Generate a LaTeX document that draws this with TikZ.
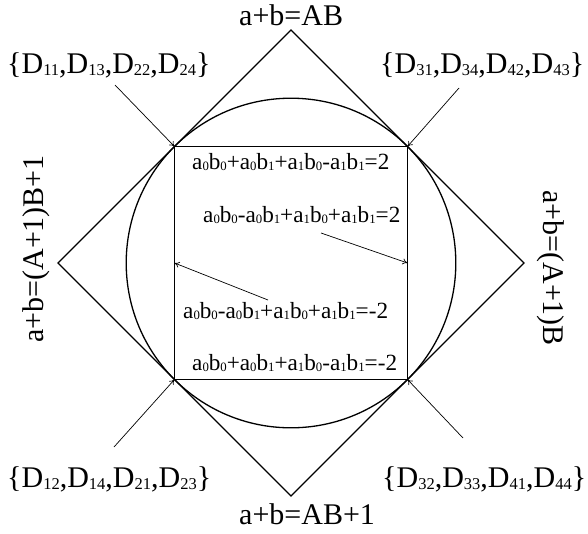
\documentclass[tikz,border=0pt]{standalone}
\usepackage{fontspec}
\setmainfont{Liberation Serif}
\usepackage{graphicx}
\usetikzlibrary{arrows.meta}
\newcommand\dsub[1]{\raisebox{-2pt}{\scalebox{0.55}{#1}}}
\newcommand\esub[1]{\raisebox{-1.5pt}{\scalebox{0.55}{#1}}}
\begin{document}
\begin{tikzpicture}[x=1pt,y=-1pt,line join=miter,
  big/.style={font=\fontsize{30}{36}\selectfont, inner sep=0pt},
  eq/.style={font=\fontsize{23.2}{28}\selectfont, inner sep=0pt, anchor=base west},
  geom/.style={line width=1.3pt},
  arr/.style={line width=0.7pt, -{To[length=5pt,width=6pt]}}]
\useasboundingbox (0,0) rectangle (588,533);
% geometry
\coordinate (O) at (291,263);
\coordinate (T) at (291,30);
\coordinate (L) at (58,263);
\coordinate (R) at (524,263);
\coordinate (B) at (291,496);
\coordinate (TL) at (174.5,146.5);
\coordinate (TR) at (407.5,146.5);
\coordinate (BL) at (174.5,379.5);
\coordinate (BR) at (407.5,379.5);
\coordinate (LS) at (174.5,263);
\coordinate (RS) at (407.5,263);
\draw[geom] (T) -- (L) -- (B) -- (R) -- cycle;
\draw[geom] (TL) -- (TR) -- (BR) -- (BL) -- cycle;
\draw[geom] (O) circle[radius=164.8pt];
% outer labels
\node[big, anchor=base west] (top) at (239,25) {a+b=AB};
\node[big, anchor=base west] (bot) at (239,524) {a+b=AB+1};
\node[big, rotate=90, anchor=base west] (lft) at (43,343) {a+b=(A+1)B+1};
\node[big, rotate=-90, anchor=base west] (rgt) at (543,190) {a+b=(A+1)B};
\node[big, anchor=base west] (s1) at (7,73) {\{D\dsub{11},D\dsub{13},D\dsub{22},D\dsub{24}\}};
\node[big, anchor=base west] (s3) at (380,73) {\{D\dsub{31},D\dsub{34},D\dsub{42},D\dsub{43}\}};
\node[big, anchor=base west] (s2) at (7,487) {\{D\dsub{12},D\dsub{14},D\dsub{21},D\dsub{23}\}};
\node[big, anchor=base west] (s4) at (382,487) {\{D\dsub{32},D\dsub{33},D\dsub{41},D\dsub{44}\}};
% arrow tails
\coordinate (a1) at (115,85);
\coordinate (a3) at (459,88);
\coordinate (a2) at (114,447);
\coordinate (a4) at (463,438);
\draw[arr] (a1) -- (TL);
\draw[arr] (a3) -- (TR);
\draw[arr] (a2) -- (BL);
\draw[arr] (a4) -- (BR);
% equations
\node[eq] (e1) at (192,169) {a\esub{0}b\esub{0}+a\esub{0}b\esub{1}+a\esub{1}b\esub{0}-a\esub{1}b\esub{1}=2};
\node[eq] (e2) at (203,222) {a\esub{0}b\esub{0}-a\esub{0}b\esub{1}+a\esub{1}b\esub{0}+a\esub{1}b\esub{1}=2};
\node[eq] (e3) at (183,318) {a\esub{0}b\esub{0}-a\esub{0}b\esub{1}+a\esub{1}b\esub{0}+a\esub{1}b\esub{1}=-2};
\node[eq] (e4) at (192,370) {a\esub{0}b\esub{0}+a\esub{0}b\esub{1}+a\esub{1}b\esub{0}-a\esub{1}b\esub{1}=-2};
\coordinate (i1) at (321,233);
\coordinate (i2) at (268,300);
\draw[arr] (i1) -- (RS);
\draw[arr] (i2) -- (LS);
\end{tikzpicture}
\end{document}
